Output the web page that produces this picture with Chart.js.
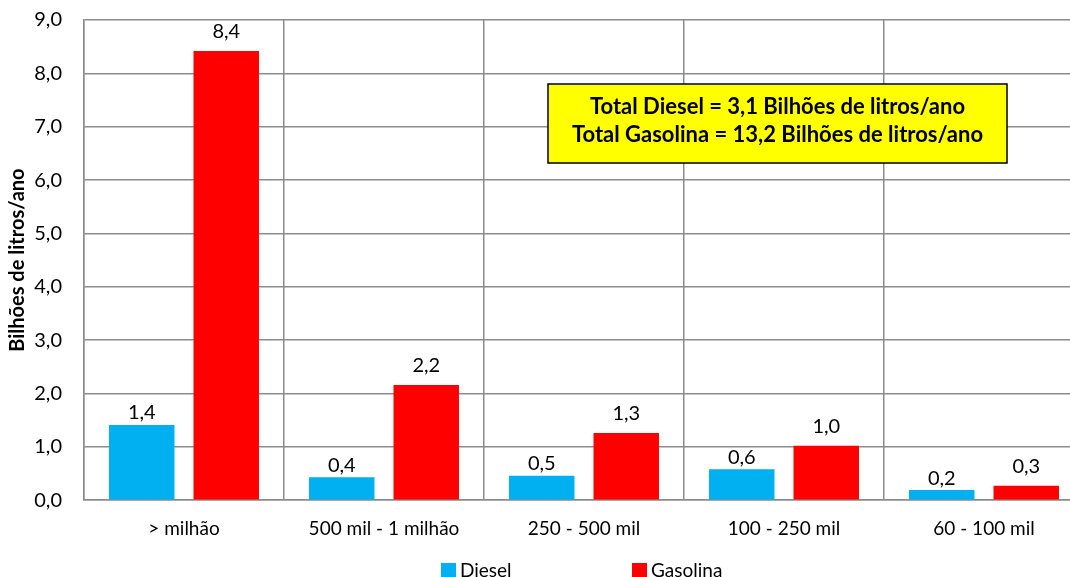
<!DOCTYPE html>
<html>
<head>
<meta charset="utf-8">
<script src="https://cdn.jsdelivr.net/npm/chart.js@4.4.1/dist/chart.umd.min.js"></script>
<style>
  html, body { margin: 0; padding: 0; background: #fff; overflow: hidden; }
  canvas { display: block; }
</style>
</head>
<body>
<canvas id="c" width="1168" height="592"></canvas>
<script>
const categories = ['> milhão', '500 mil - 1 milhão', '250 - 500 mil', '100 - 250 mil', '60 - 100 mil'];
const dieselValues = [1.41, 0.43, 0.46, 0.58, 0.19];
const gasolinaValues = [8.42, 2.16, 1.26, 1.02, 0.27];
const seriesNames = ['Diesel', 'Gasolina'];
const yTickMin = 0, yTickMax = 9, yTickStep = 1;
const yAxisTitle = 'Bilhões de litros/ano';
const noteLines = ['Total Diesel = 3,1 Bilhões de litros/ano', 'Total Gasolina = 13,2 Bilhões de litros/ano'];

const FONT = 'Lato, "Open Sans", sans-serif';
const fmt = v => v.toFixed(1).replace('.', ',');

const valueLabels = {
  id: 'valueLabels',
  afterDatasetsDraw(chart) {
    const ctx = chart.ctx;
    ctx.save();
    ctx.font = '20px ' + FONT;
    ctx.fillStyle = '#000';
    ctx.textAlign = 'center';
    ctx.textBaseline = 'middle';
    chart.data.datasets.forEach((ds, i) => {
      const meta = chart.getDatasetMeta(i);
      meta.data.forEach((bar, j) => {
        ctx.fillText(fmt(ds.data[j]), bar.x, bar.y - ds.labelOffset);
      });
    });
    ctx.restore();
  }
};

const noteBox = {
  id: 'noteBox',
  afterDraw(chart) {
    const ctx = chart.ctx;
    ctx.save();
    const x = 548, y = 84, w = 459, h = 79;
    ctx.fillStyle = '#FFFF00';
    ctx.fillRect(x, y, w, h);
    ctx.strokeStyle = '#000';
    ctx.lineWidth = 1.5;
    ctx.strokeRect(x, y, w, h);
    ctx.fillStyle = '#000';
    ctx.font = 'bold 22px ' + FONT;
    ctx.textAlign = 'center';
    ctx.textBaseline = 'middle';
    ctx.fillText(noteLines[0], x + w / 2, y + 23);
    ctx.fillText(noteLines[1], x + w / 2, y + 51);
    ctx.restore();
  }
};

const customLegend = {
  id: 'customLegend',
  afterDraw(chart) {
    const ctx = chart.ctx;
    ctx.save();
    ctx.font = '19px ' + FONT;
    ctx.textBaseline = 'middle';
    ctx.textAlign = 'left';
    const xs = [441, 632];
    chart.data.datasets.forEach((ds, i) => {
      ctx.fillStyle = ds.backgroundColor;
      ctx.fillRect(xs[i], 563, 15, 15);
      ctx.fillStyle = '#000';
      ctx.fillText(ds.label, xs[i] + 19, 571);
    });
    ctx.restore();
  }
};

new Chart(document.getElementById('c'), {
  type: 'bar',
  data: {
    labels: categories,
    datasets: [
      { label: seriesNames[0], data: dieselValues, backgroundColor: '#00B0F0', labelOffset: 12 },
      { label: seriesNames[1], data: gasolinaValues, backgroundColor: '#FF0000', labelOffset: 19 }
    ]
  },
  options: {
    responsive: false,
    animation: false,
    devicePixelRatio: 1,
    layout: { padding: { left: 0, right: 84, top: 20, bottom: 52 } },
    datasets: { bar: { categoryPercentage: 0.845, barPercentage: 0.775 } },
    plugins: { legend: { display: false }, tooltip: { enabled: false } },
    scales: {
      x: {
        grid: { color: '#8C8C8C', lineWidth: 1.5, drawTicks: true, tickLength: 17, tickColor: 'rgba(0,0,0,0)', offset: true },
        border: { color: '#8C8C8C', width: 1.5 },
        ticks: { color: '#000', font: { family: FONT, size: 19 }, padding: 0, maxRotation: 0 }
      },
      y: {
        min: yTickMin, max: yTickMax,
        afterFit(s) { s.width = 84; },
        grid: { color: '#8C8C8C', lineWidth: 1.5, drawTicks: true, tickLength: 19, tickColor: 'rgba(0,0,0,0)' },
        border: { color: '#8C8C8C', width: 1.5 },
        ticks: { stepSize: yTickStep, color: '#000', font: { family: FONT, size: 20 }, padding: 3, callback: v => fmt(v) },
        title: { display: true, text: yAxisTitle, color: '#000', font: { family: FONT, size: 20, weight: 'bold' }, padding: { top: 6, bottom: 4 } }
      }
    }
  },
  plugins: [valueLabels, noteBox, customLegend]
});
</script>
</body>
</html>
